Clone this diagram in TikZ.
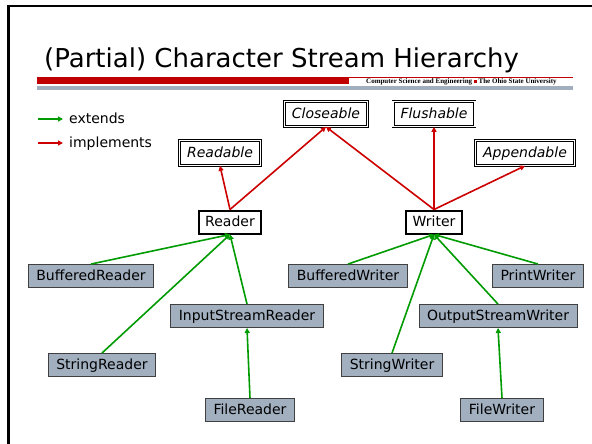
\documentclass[tikz,border=0pt]{standalone}
\usepackage{fontspec}
\setmainfont{DejaVu Sans}
\newfontfamily\hdrserif{Liberation Serif}
\usetikzlibrary{arrows.meta}
\definecolor{extgreen}{RGB}{0,155,0}
\definecolor{implred}{RGB}{204,0,0}
\definecolor{barred}{RGB}{192,0,0}
\definecolor{bargrey}{RGB}{160,174,190}
\definecolor{clsfill}{RGB}{161,175,191}
\tikzset{
	>={Triangle[length=5pt,width=5pt]},
	lbl/.style={font=\fontsize{14}{16}\selectfont, text height=11pt, text depth=3pt},
	iface/.style={lbl, draw, double, line width=0.7pt, double distance=1.6pt, fill=white,
		font=\fontsize{14}{16}\selectfont\itshape, inner xsep=7.5pt, inner ysep=5.5pt},
	root/.style={lbl, draw, line width=2pt, fill=white, inner xsep=6.5pt, inner ysep=4.5pt},
	cls/.style={lbl, draw=black!75, fill=clsfill, line width=0.9pt, inner xsep=8pt, inner ysep=4.5pt},
	ext/.style={->, extgreen, line width=1.6pt},
	impl/.style={->, implred, line width=1.6pt},
}
\begin{document}
\begin{tikzpicture}[x=1pt,y=-1pt]
		\useasboundingbox (0,0) rectangle (592,444);
		\draw[line width=2.5pt] (8.5,444) -- (8.5,6) -- (592,6);
		
		\node[anchor=base west, inner sep=0, font=\fontsize{26}{30}\selectfont] (title) at (44,67) {(Partial) Character Stream Hierarchy};
		\fill[barred] (37,77) rectangle (349,84);
		\draw[barred, line width=1pt] (349,77.5) -- (573,77.5);
		\fill[bargrey] (37,86) rectangle (573,90);
		\node[anchor=west, inner sep=0, font=\hdrserif\bfseries\fontsize{7}{8}\selectfont] (osu) at (366,82)
			{Computer Science and Engineering {\color{barred}\rule[0.4pt]{3pt}{3pt}} The Ohio State University};
		
		\coordinate (ext0) at (38,119);
		\coordinate (impl0) at (38,143);
		\node[lbl, anchor=west, inner xsep=6pt] (extlbl) at (63,119) {extends};
		\node[lbl, anchor=west, inner xsep=6pt] (impllbl) at (63,143) {implements};
		\draw[ext] (ext0) to (extlbl.west);
		\draw[impl] (impl0) to (impllbl.west);
		
		\node[iface] (rdbl) at (220,153) {Readable};
		\node[iface] (clos) at (326,114) {Closeable};
		\node[iface] (flush) at (434,114) {Flushable};
		\node[iface] (app) at (525,153) {Appendable};
		
		\node[root] (rd) at (230,222) {Reader};
		\node[root] (wr) at (434,222) {Writer};
		
		\node[cls] (brd) at (91,276) {BufferedReader};
		\node[cls] (srd) at (102,365) {StringReader};
		\node[cls] (isr) at (247,316) {InputStreamReader};
		\node[cls] (frd) at (250,410) {FileReader};
		\node[cls] (bwr) at (348,276) {BufferedWriter};
		\node[cls] (swr) at (392,365) {StringWriter};
		\node[cls] (osw) at (498,316) {OutputStreamWriter};
		\node[cls] (fwr) at (502,410) {FileWriter};
		\node[cls] (pwr) at (538,276) {PrintWriter};
		
		\draw[impl] (rd.north) to (rdbl.south);
		\draw[impl] (rd.north) to (clos.south);
		\draw[impl] (wr.north) to (clos.south);
		\draw[impl] (wr.north) to (flush.south);
		\draw[impl] (wr.north) to (app.south);
		
		\draw[ext] (brd.north) to (rd.south);
		\draw[ext] (srd.north) to (rd.south);
		\draw[ext] (isr.north) to (rd.south);
		\draw[ext] (frd.north) to (isr.south);
		\draw[ext] (bwr.north) to (wr.south);
		\draw[ext] (swr.north) to (wr.south);
		\draw[ext] (osw.north) to (wr.south);
		\draw[ext] (pwr.north) to (wr.south);
		\draw[ext] (fwr.north) to (osw.south);
\end{tikzpicture}
\end{document}
